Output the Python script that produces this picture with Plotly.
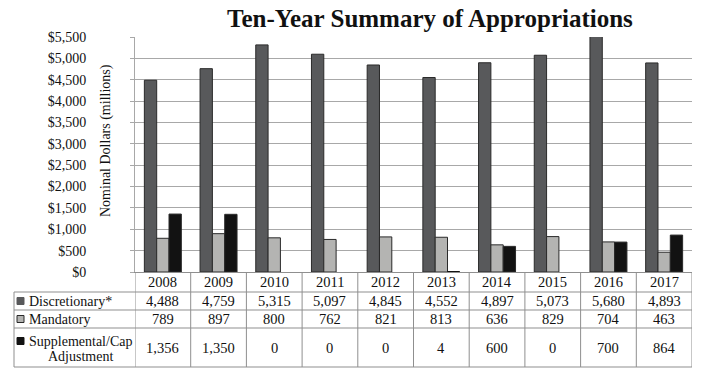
import plotly.graph_objects as go

years = ["2008", "2009", "2010", "2011", "2012", "2013", "2014", "2015", "2016", "2017"]
discretionary = [4488, 4759, 5315, 5097, 4845, 4552, 4897, 5073, 5680, 4893]
mandatory = [789, 897, 800, 762, 821, 813, 636, 829, 704, 463]
supplemental = [1356, 1350, 0, 0, 0, 4, 600, 0, 700, 864]
series_names = ["Discretionary*", "Mandatory", "Supplemental/Cap Adjustment"]
y_ticks = list(range(0, 5501, 500))
y_ticktext = [f"${v:,}" for v in y_ticks]

W, H = 708, 380
L, R, T, B = 135, 16, 37, 108
PW, PH = W - L - R, H - T - B
FONT = "Liberation Serif"
colors = ["#58595b", "#b4b4b2", "#121212"]
grid = "#a8a8a8"
border = "#8f8f8f"
TXT = "#111111"


def px(x):
    return (x - L) / PW


def py(y):
    return (H - B - y) / PH


fig = go.Figure()
for name, vals, c in zip(series_names, [discretionary, mandatory, supplemental], colors):
    fig.add_trace(go.Bar(
        x=years, y=vals, name=name, hoverinfo="x+y+name",
        marker=dict(color=c, line=dict(color="#2a2a2a", width=[0 if v < 20 else 1 for v in vals])),
    ))

shapes = []
ann = []


def label(x, y, text, xref="paper", xanchor="center", size=14, angle=0):
    ann.append(dict(x=x, y=y, xref=xref, yref="paper", text=text, showarrow=False,
                    xanchor=xanchor, yanchor="middle", textangle=angle,
                    font=dict(family=FONT, size=size, color=TXT)))


row_lines = [292, 310, 328, 367]
for yy in row_lines:
    shapes.append(dict(type="line", xref="paper", yref="paper", x0=px(14), x1=1,
                       y0=py(yy), y1=py(yy), line=dict(color=border, width=1)))
for k in range(len(years) + 1):
    shapes.append(dict(type="line", xref="x", yref="paper", x0=k - 0.5, x1=k - 0.5,
                       y0=py(272), y1=py(367), line=dict(color=border, width=1)))
shapes.append(dict(type="line", xref="paper", yref="paper", x0=px(14), x1=px(14),
                   y0=py(292), y1=py(367), line=dict(color=border, width=1)))

for i, yr in enumerate(years):
    label(i, py(282), yr, xref="x", size=14.5)

row_centers = [301, 319, 347.5]
for vals, yc in zip([discretionary, mandatory, supplemental], row_centers):
    for i, v in enumerate(vals):
        label(i, py(yc), f"{v:,}", xref="x", size=14.5)

sw_y = [301, 319, 341]
for i, c in enumerate(colors):
    shapes.append(dict(type="rect", xref="paper", yref="paper", x0=px(17), x1=px(24),
                       y0=py(sw_y[i] + 3.5), y1=py(sw_y[i] - 3.5), fillcolor=c,
                       line=dict(color="#2a2a2a" if i == 1 else c, width=1)))
label(px(27), py(301), series_names[0], xanchor="left")
label(px(27), py(319), series_names[1], xanchor="left")
label(px(80), py(341), "Supplemental/Cap")
label(px(80), py(356), "Adjustment")

label(px(106), py(141), "Nominal Dollars (millions)", angle=-90)
label(px(430), py(18), "<b>Ten-Year Summary of Appropriations</b>", size=25)

fig.update_layout(
    width=W, height=H,
    margin=dict(l=L, r=R, t=T, b=B),
    paper_bgcolor="white", plot_bgcolor="white",
    barmode="group", bargap=0.336, bargroupgap=0,
    showlegend=False,
    shapes=shapes, annotations=ann,
    font=dict(family=FONT, size=14, color=TXT),
    xaxis=dict(showticklabels=False, showgrid=False, zeroline=False, showline=True,
               linecolor=border, linewidth=1, ticks="", range=[-0.5, 9.5],
               categoryorder="array", categoryarray=years),
    yaxis=dict(range=[0, 5500], tickvals=y_ticks, ticktext=y_ticktext,
               showgrid=True, gridcolor=grid, gridwidth=1, zeroline=False,
               showline=True, linecolor=grid, linewidth=1,
               ticks="outside", ticklen=4, tickcolor=grid,
               ticklabelstandoff=41,
               tickfont=dict(family=FONT, size=14, color=TXT)),
)

fig.write_html("out.html", config={"displayModeBar": False},
               post_script="document.body.style.margin='0px';")
